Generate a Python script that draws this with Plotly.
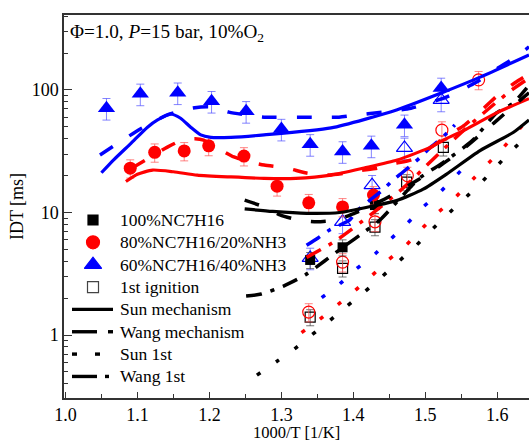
import plotly.graph_objects as go

# ---------------- experimental data ----------------
# 100% NC7H16 main ignition (filled squares)
nc7_x = [1.340, 1.385, 1.430]
nc7_y = [4.1, 5.2, 11.5]
# 100% NC7H16 first ignition (open squares)
nc7_1st_x = [1.340, 1.385, 1.430, 1.474, 1.525]
nc7_1st_y = [1.40, 3.5, 7.6, 17.7, 34.0]
# 80/20 main (filled circles)
nh20_x = [1.090, 1.124, 1.165, 1.199, 1.248, 1.294, 1.338, 1.385, 1.428]
nh20_y = [23.0, 31.0, 31.8, 35.0, 28.9, 16.4, 12.0, 11.1, 13.9]
# 80/20 first (open circles)
nh20_1st_x = [1.338, 1.385, 1.430, 1.475, 1.523, 1.574]
nh20_1st_y = [1.54, 3.94, 8.4, 20.0, 47.0, 121.0]
# 60/40 main (filled triangles)
nh40_x = [1.057, 1.104, 1.156, 1.203, 1.251, 1.300, 1.340, 1.385, 1.425, 1.471, 1.522]
nh40_y = [71.0, 93.0, 95.0, 81.0, 67.0, 48.0, 36.0, 31.5, 35.0, 52.0, 104.0]
# 60/40 first (open triangles)
nh40_1st_x = [1.340, 1.385, 1.426, 1.471, 1.522]
nh40_1st_y = [4.26, 8.4, 16.7, 33.7, 83.0]

# ---------------- simulations ----------------
# Sun mechanism (solid)
sun_nc7_x = [1.249, 1.288, 1.335, 1.381, 1.427, 1.460, 1.497, 1.529, 1.576, 1.622, 1.644]
sun_nc7_y = [10.7, 10.2, 9.85, 10.0, 11.3, 12.5, 15.5, 20.5, 32.0, 45.0, 57.0]
sun_nh20_x = [1.084, 1.100, 1.121, 1.150, 1.183, 1.230, 1.276, 1.320, 1.369, 1.415, 1.461, 1.508, 1.529, 1.554, 1.599, 1.644]
sun_nh20_y = [17.9, 20.5, 22.2, 21.5, 20.2, 19.5, 19.0, 19.0, 20.2, 23.1, 26.8, 34.3, 40.0, 47.0, 65.0, 85.0]
sun_nh40_x = [1.050, 1.067, 1.091, 1.114, 1.128, 1.146, 1.160, 1.174, 1.188, 1.202, 1.230, 1.276, 1.369, 1.461, 1.523, 1.577, 1.644]
sun_nh40_y = [21.1, 26.9, 36.7, 49.7, 56.9, 63.7, 58.8, 49.7, 43.0, 41.1, 41.1, 43.0, 49.0, 69.0, 95.0, 128.0, 193.0]
# Wang mechanism (dashed)
wang_nc7_x = [1.249, 1.280, 1.298, 1.323, 1.349, 1.377, 1.402, 1.419, 1.450, 1.490, 1.520, 1.550, 1.580, 1.610, 1.644]
wang_nc7_y = [12.6, 10.9, 9.55, 8.7, 8.4, 8.7, 9.9, 10.9, 13.5, 18.5, 24.0, 32.0, 45.0, 64.0, 95.0]
wang_nh20_x = [1.092, 1.123, 1.141, 1.162, 1.180, 1.192, 1.210, 1.234, 1.257, 1.276, 1.308, 1.335, 1.363, 1.390, 1.410, 1.433, 1.456, 1.481, 1.498, 1.530, 1.555, 1.580, 1.600, 1.625, 1.644]
wang_nh20_y = [23.0, 29.5, 34.0, 39.0, 40.0, 39.0, 34.0, 28.4, 25.8, 24.4, 23.0, 21.0, 20.2, 21.0, 22.0, 23.0, 25.0, 27.0, 31.0, 42.0, 52.0, 70.0, 90.0, 115.0, 135.0]
wang_nh40_x = [1.048, 1.084, 1.104, 1.140, 1.176, 1.200, 1.227, 1.255, 1.276, 1.330, 1.380, 1.400, 1.440, 1.480, 1.530, 1.570, 1.600, 1.625, 1.644]
wang_nh40_y = [29.5, 40.5, 48.0, 62.0, 71.0, 73.0, 66.0, 62.0, 60.0, 60.0, 60.0, 62.0, 66.0, 71.0, 88.0, 115.0, 150.0, 185.0, 225.0]
# Sun 1st (dotted)
sun1_nc7_x = [1.266, 1.293, 1.318, 1.342, 1.367, 1.390, 1.415, 1.439, 1.462, 1.485, 1.507, 1.530, 1.552, 1.574, 1.597, 1.618, 1.641]
sun1_nc7_y = [0.471, 0.605, 0.769, 1.0, 1.31, 1.70, 2.24, 2.97, 3.94, 5.22, 7.06, 9.55, 12.6, 16.7, 23.1, 31.3, 41.6]
sun1_nh20_x = [1.328, 1.353, 1.378, 1.402, 1.425, 1.448, 1.473, 1.493, 1.516, 1.540, 1.561, 1.583, 1.603, 1.624, 1.641]
sun1_nh20_y = [1.045, 1.34, 1.76, 2.30, 3.03, 4.07, 5.40, 7.16, 9.8, 13.0, 17.4, 23.7, 31.3, 43.0, 56.9]
sun1_nh40_x = [1.356, 1.381, 1.404, 1.430, 1.452, 1.474, 1.497, 1.519, 1.541, 1.563]
sun1_nh40_y = [2.02, 2.61, 3.46, 4.58, 6.08, 8.06, 11.1, 14.4, 19.5, 26.8]
# Wang 1st (dash-dot)
wang1_nc7_x = [1.251, 1.272, 1.303, 1.333, 1.360, 1.388, 1.415, 1.437, 1.492, 1.524, 1.566, 1.599, 1.622, 1.641]
wang1_nc7_y = [2.08, 2.16, 2.51, 3.09, 4.02, 5.33, 6.93, 8.7, 19.1, 25.4, 39.0, 65.0, 78.0, 104.0]
wang1_nh20_x = [1.335, 1.374, 1.427, 1.470, 1.510, 1.550, 1.590, 1.620, 1.644]
wang1_nh20_y = [4.3, 5.8, 9.9, 16.0, 27.0, 45.0, 72.0, 100.0, 125.0]
wang1_nh40_x = [1.335, 1.351, 1.367, 1.395, 1.404, 1.423, 1.441, 1.455, 1.469, 1.492, 1.506, 1.523, 1.541]
wang1_nh40_y = [5.4, 6.2, 7.2, 8.7, 10.2, 12.6, 15.3, 18.4, 21.4, 27.9, 33.6, 40.6, 51.8]

legend_labels = ["100%NC7H16", "80%NC7H16/20%NH3", "60%NC7H16/40%NH3", "1st ignition",
                 "Sun mechanism", "Wang mechanism", "Sun 1st", "Wang 1st"]

BLACK, RED, BLUE = "#000000", "#ff0000", "#0000ff"
FONT = "Liberation Serif"

fig = go.Figure()

def err(pct, col):
    return dict(type="percent", value=pct, color=col, thickness=1, width=4)

def pts(x, y, sym, size, col, ecol, pct, open_=False):
    marker = dict(symbol=sym, size=size, color=col)
    if open_:
        marker = dict(symbol=sym + "-open", size=size, color=col, line=dict(width=1.2, color=col))
    fig.add_trace(go.Scatter(x=x, y=y, mode="markers", marker=marker,
                             error_y=err(pct, ecol), showlegend=False))

pts(nc7_1st_x, nc7_1st_y, "square", 10, BLACK, "rgba(60,60,60,0.7)", 15, True)
pts(nh20_1st_x, nh20_1st_y, "circle", 12, RED, "rgba(255,80,80,0.7)", 17, True)
pts(nh40_1st_x, nh40_1st_y, "triangle-up", 14, BLUE, "rgba(80,80,255,0.7)", 20, True)
pts(nc7_x, nc7_y, "square", 10, BLACK, "rgba(60,60,60,0.7)", 15)
pts(nh20_x, nh20_y, "circle", 13, RED, "rgba(255,80,80,0.7)", 17)
pts(nh40_x, nh40_y, "triangle-up", 15, BLUE, "rgba(80,80,255,0.7)", 20)

DASH = "15px,20px"
DOT = "4px,19px"
DASHDOT = "16px,9px,4px,9px"

def line(x, y, col, dash, w=3.2):
    fig.add_trace(go.Scatter(x=x, y=y, mode="lines",
                             line=dict(color=col, width=w, dash=dash, shape="spline", smoothing=0.6),
                             showlegend=False, hoverinfo="skip"))

line(sun1_nc7_x, sun1_nc7_y, BLACK, DOT, 3.5)
line(sun1_nh20_x, sun1_nh20_y, RED, DOT, 3.5)
line(sun1_nh40_x, sun1_nh40_y, BLUE, DOT, 3.5)
line(wang1_nc7_x, wang1_nc7_y, BLACK, DASHDOT, 3.5)
line(wang1_nh20_x, wang1_nh20_y, RED, DASHDOT, 3.5)
line(wang1_nh40_x, wang1_nh40_y, BLUE, DASHDOT, 3.5)
line(sun_nc7_x, sun_nc7_y, BLACK, "solid")
line(sun_nh20_x, sun_nh20_y, RED, "solid")
line(sun_nh40_x, sun_nh40_y, BLUE, "solid")
line(wang_nc7_x, wang_nc7_y, BLACK, DASH, 3.5)
line(wang_nh20_x, wang_nh20_y, RED, DASH, 3.5)
line(wang_nh40_x, wang_nh40_y, BLUE, DASH, 3.5)

# ---------------- legend (drawn on an overlay axis in pixel units) ----------------
row_y = [220 + 22.35 * i for i in range(8)]
MX, TX = 93, 118
leg_markers = [("square", BLACK, 10, BLACK), ("circle", RED, 13, RED),
               ("triangle-up", BLUE, 15, BLUE), ("square-open", "#444444", 11, "#444444")]
for (sym, col, sz, lc), yy in zip(leg_markers, row_y[:4]):
    fig.add_trace(go.Scatter(x=[MX], y=[yy], xaxis="x2", yaxis="y2", mode="markers", showlegend=False,
                             hoverinfo="skip",
                             marker=dict(symbol=sym, color=col, size=sz, line=dict(width=1.2, color=lc))))
leg_segments = [
    [(72, 113)],
    [(72, 97), (108, 113)],
    [(72, 77), (95, 100)],
    [(72, 97), (105, 109)],
]
for segs, yy in zip(leg_segments, row_y[4:]):
    xs, ys = [], []
    for a, b in segs:
        xs += [a, b, None]
        ys += [yy, yy, None]
    fig.add_trace(go.Scatter(x=xs, y=ys, xaxis="x2", yaxis="y2", mode="lines", showlegend=False,
                             hoverinfo="skip", line=dict(color=BLACK, width=3.4)))
for lab, yy in zip(legend_labels, row_y):
    fig.add_annotation(xref="x2", yref="y2", x=TX, y=yy, xanchor="left", yanchor="middle",
                       text=lab, showarrow=False, font=dict(family=FONT, size=17.5, color="black"))

fig.add_annotation(xref="paper", yref="paper", x=0.008, y=0.953, xanchor="left", yanchor="middle",
                   text="Φ=1.0, <i>P</i>=15 bar, 10%O<sub>2</sub>", showarrow=False,
                   font=dict(family=FONT, size=19.2, color="black"))
# x-axis title
fig.add_annotation(xref="paper", yref="paper", x=0.5, y=1 - (433 - 15) / 383, xanchor="center", yanchor="middle",
                   text="1000/T [1/K]", showarrow=False, font=dict(family=FONT, size=16.5, color="black"))

fig.update_layout(
    width=529, height=444, margin=dict(l=64, r=0, t=15, b=46),
    paper_bgcolor="white", plot_bgcolor="white", showlegend=False,
    font=dict(family=FONT, size=18, color="black"),
    xaxis=dict(range=[0.998, 1.644], tickvals=[1.0, 1.1, 1.2, 1.3, 1.4, 1.5, 1.6],
               ticktext=["1.0", "1.1", "1.2", "1.3", "1.4", "1.5", "1.6"],
               ticks="inside", ticklen=6, tickcolor="#333", showline=True, linecolor="#333", linewidth=1.5,
               mirror=True, showgrid=False, zeroline=False, tickfont=dict(size=18), ticklabelstandoff=0,
               minor=dict(tickvals=[1.05, 1.15, 1.25, 1.35, 1.45, 1.55], ticks="inside", ticklen=4, tickcolor="#333")),
    yaxis=dict(type="log", range=[-0.514, 2.612], tickvals=[1, 10, 100], ticktext=["1", "10", "100"],
               ticks="inside", ticklen=8, tickcolor="#333", showline=True, linecolor="#333", linewidth=1.5,
               showgrid=False, zeroline=False, tickfont=dict(size=18),
               minor=dict(tickvals=[0.4, 0.5, 0.6, 0.7, 0.8, 0.9, 2, 3, 4, 5, 6, 7, 8, 9, 20, 30, 40, 50, 60, 70, 80, 90, 200, 300, 400],
                          ticks="inside", ticklen=4, tickcolor="#333"),
               title=dict(text="IDT [ms]", standoff=3, font=dict(size=18))),
    xaxis2=dict(range=[64, 529], overlaying="x", anchor="y2", visible=False, fixedrange=True),
    yaxis2=dict(range=[398, 15], overlaying="y", anchor="x2", visible=False, fixedrange=True),
)

fig.write_html("out.html")
